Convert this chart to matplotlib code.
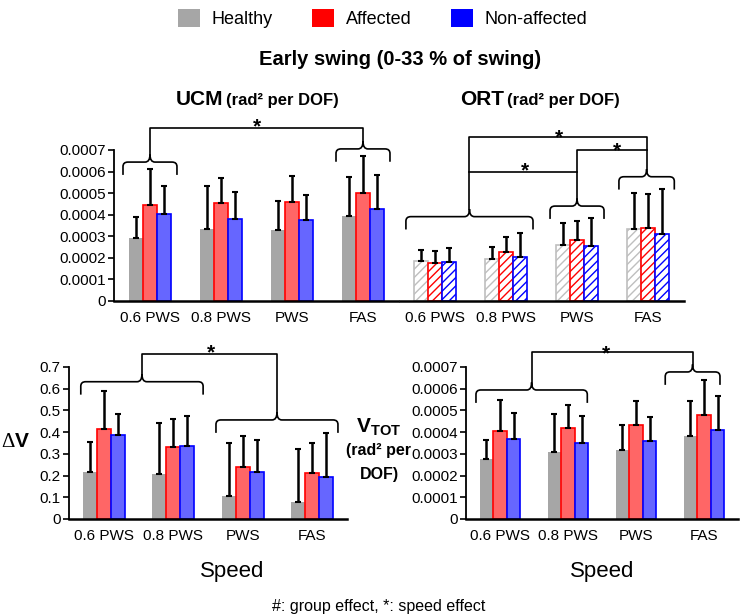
import matplotlib
matplotlib.use("Agg")
import matplotlib.pyplot as plt
from matplotlib.patches import Patch, PathPatch
from matplotlib.path import Path
from matplotlib.ticker import FuncFormatter
import numpy as np

plt.rcParams['font.family'] = 'Liberation Sans'
plt.rcParams['mathtext.fontset'] = 'custom'
plt.rcParams['mathtext.rm'] = 'Liberation Sans'
plt.rcParams['mathtext.bf'] = 'Liberation Sans:bold'
plt.rcParams['hatch.linewidth'] = 1.0

speeds = ['0.6 PWS', '0.8 PWS', 'PWS', 'FAS']
groups = ['Healthy', 'Affected', 'Non-affected']

# UCM (rad^2 per DOF)
ucm_healthy = [0.000294, 0.000332, 0.000328, 0.000393]
ucm_healthy_sd = [0.000096, 0.000203, 0.000137, 0.000180]
ucm_affected = [0.000445, 0.000453, 0.000461, 0.000502]
ucm_affected_sd = [0.000167, 0.000117, 0.000117, 0.000168]
ucm_nonaff = [0.000405, 0.000379, 0.000376, 0.000428]
ucm_nonaff_sd = [0.000128, 0.000124, 0.000116, 0.000157]

# ORT (rad^2 per DOF)
ort_healthy = [0.000187, 0.000193, 0.000260, 0.000336]
ort_healthy_sd = [0.000049, 0.000055, 0.000103, 0.000165]
ort_affected = [0.000176, 0.000227, 0.000282, 0.000340]
ort_affected_sd = [0.000054, 0.000068, 0.000091, 0.000157]
ort_nonaff = [0.000182, 0.000202, 0.000253, 0.000309]
ort_nonaff_sd = [0.000063, 0.000114, 0.000133, 0.000211]

# delta V
dv_healthy = [0.215, 0.205, 0.105, 0.080]
dv_healthy_sd = [0.140, 0.235, 0.245, 0.240]
dv_affected = [0.415, 0.330, 0.240, 0.210]
dv_affected_sd = [0.175, 0.130, 0.140, 0.140]
dv_nonaff = [0.385, 0.335, 0.215, 0.195]
dv_nonaff_sd = [0.100, 0.140, 0.150, 0.200]

# V_TOT
vtot_healthy = [0.000277, 0.000310, 0.000316, 0.000380]
vtot_healthy_sd = [0.000085, 0.000175, 0.000119, 0.000162]
vtot_affected = [0.000405, 0.000420, 0.000433, 0.000477]
vtot_affected_sd = [0.000145, 0.000105, 0.000109, 0.000163]
vtot_nonaff = [0.000370, 0.000350, 0.000357, 0.000410]
vtot_nonaff_sd = [0.000118, 0.000122, 0.000113, 0.000158]

fill_cols = ['#a6a6a6', '#ff6666', '#6666ff']
edge_cols = ['#a6a6a6', '#ff0000', '#0000ff']
hatch_edge = ['#bfbfbf', '#ff0000', '#0000ff']
legend_cols = ['#a6a6a6', '#ff0000', '#0000ff']

fig = plt.figure(figsize=(7.4, 6.16), dpi=100)
ax_ucm = fig.add_axes([0.1547, 0.5114, 0.3838, 0.2451])
ax_ort = fig.add_axes([0.5399, 0.5114, 0.3838, 0.2451])
ax_dv = fig.add_axes([0.0932, 0.1575, 0.3757, 0.2468])
ax_vt = fig.add_axes([0.6297, 0.1575, 0.3676, 0.2468])

x = np.arange(len(speeds))
w = 0.2


def draw_panel(ax, means, sds, ymax, step, fmt, hatched=False, show_y=True):
    for i, (m, s) in enumerate(zip(means, sds)):
        pos = x + (i - 1) * w
        if hatched:
            ax.bar(pos, m, w, color='white', edgecolor=hatch_edge[i], hatch='////',
                   linewidth=1.2, zorder=2)
        elif i == 0:
            ax.bar(pos, m, w, color=fill_cols[i], linewidth=0, zorder=2)
        else:
            ax.bar(pos, m, w, color=fill_cols[i], edgecolor=edge_cols[i],
                   linewidth=1.2, zorder=2)
        ax.errorbar(pos, m, yerr=[np.zeros(len(m)), s], fmt='none', ecolor='black',
                    elinewidth=1.8, capsize=2.2, capthick=1.5, zorder=3)
    ax.set_xlim(-0.5, 3.5)
    ax.set_ylim(0, ymax)
    ax.set_xticks(x)
    ax.set_xticklabels(speeds, fontsize=11)
    ax.tick_params(axis='x', length=0, pad=7)
    for sp in ['top', 'right']:
        ax.spines[sp].set_visible(False)
    ax.spines['bottom'].set_linewidth(1.8)
    if show_y:
        ax.set_yticks(np.arange(0, ymax + step / 2, step))
        ax.yaxis.set_major_formatter(FuncFormatter(lambda v, p: '0' if abs(v) < 1e-12 else fmt.format(v)))
        ax.tick_params(axis='y', direction='out', length=4, width=1.2, labelsize=11, pad=2)
        ax.spines['left'].set_linewidth(1.3)
    else:
        ax.spines['left'].set_visible(False)
        ax.set_yticks([])
    ax.patch.set_alpha(0)


def brace(ax, x0, x1, y):
    ymax = ax.get_ylim()[1]
    h = 0.085 * ymax
    p = 0.05 * ymax
    r = 0.07
    xm = (x0 + x1) / 2
    verts = [(x0, y - h), (x0, y - 0.35 * h), (x0, y), (x0 + r, y),
             (xm - r, y), (xm, y), (xm, y + p), (xm, y), (xm + r, y),
             (x1 - r, y), (x1, y), (x1, y - 0.35 * h), (x1, y - h)]
    codes = [Path.MOVETO, Path.LINETO, Path.CURVE3, Path.CURVE3,
             Path.LINETO, Path.CURVE3, Path.CURVE3, Path.CURVE3, Path.CURVE3,
             Path.LINETO, Path.CURVE3, Path.CURVE3, Path.LINETO]
    ax.add_patch(PathPatch(Path(verts, codes), fill=False, lw=1.2, clip_on=False, zorder=4))
    return xm, y + p


def line(ax, xs, ys):
    ax.plot(xs, ys, color='black', lw=1.2, clip_on=False, zorder=4)


def star(ax, xx, yy):
    ax.annotate('*', (xx, yy), xytext=(0, -5), textcoords='offset points',
                ha='center', va='center', fontsize=15, fontweight='bold',
                annotation_clip=False)


draw_panel(ax_ucm, [ucm_healthy, ucm_affected, ucm_nonaff],
           [ucm_healthy_sd, ucm_affected_sd, ucm_nonaff_sd], 0.0007, 0.0001, '{:.4f}')
draw_panel(ax_ort, [ort_healthy, ort_affected, ort_nonaff],
           [ort_healthy_sd, ort_affected_sd, ort_nonaff_sd], 0.0007, 0.0001, '{:.4f}',
           hatched=True, show_y=False)
draw_panel(ax_dv, [dv_healthy, dv_affected, dv_nonaff],
           [dv_healthy_sd, dv_affected_sd, dv_nonaff_sd], 0.7, 0.1, '{:.1f}')
draw_panel(ax_vt, [vtot_healthy, vtot_affected, vtot_nonaff],
           [vtot_healthy_sd, vtot_affected_sd, vtot_nonaff_sd], 0.0007, 0.0001, '{:.4f}')

# UCM brackets
xa, ya = brace(ax_ucm, -0.38, 0.38, 0.000644)
xb, yb = brace(ax_ucm, 2.62, 3.38, 0.000705)
line(ax_ucm, [xa, xa, xb, xb], [ya, 0.000802, 0.000802, yb])
star(ax_ucm, 1.5, 0.00084)

# ORT brackets
xa, ya = brace(ax_ort, -0.41, 1.38, 0.000391)
xb, yb = brace(ax_ort, 1.62, 2.38, 0.00044)
xc, yc = brace(ax_ort, 2.59, 3.37, 0.000576)
line(ax_ort, [xa, xa, xc, xc], [ya, 0.000762, 0.000762, yc])
line(ax_ort, [xa, xb], [0.0006, 0.0006])
line(ax_ort, [xb, xb, xc], [yb, 0.0007, 0.0007])
star(ax_ort, 1.75, 0.00079)
star(ax_ort, 2.56, 0.000728)
star(ax_ort, 1.27, 0.000635)

# delta V brackets
xa, ya = brace(ax_dv, -0.33, 1.43, 0.632)
xb, yb = brace(ax_dv, 1.615, 3.37, 0.456)
line(ax_dv, [xa, xa, xb, xb], [ya, 0.76, 0.76, yb])
star(ax_dv, 1.54, 0.797)

# V_TOT brackets
xa, ya = brace(ax_vt, -0.353, 1.284, 0.000594)
xb, yb = brace(ax_vt, 2.43, 3.235, 0.000677)
line(ax_vt, [xa, xa, xb, xb], [ya, 0.00077, 0.00077, yb])
star(ax_vt, 1.56, 0.000793)

# texts
handles = [Patch(facecolor=c, edgecolor='none') for c in legend_cols]
fig.legend(handles, groups, loc='upper center', bbox_to_anchor=(0.517, 1.012), ncol=3,
           frameon=False, fontsize=13, handlelength=1.2, handleheight=1.2,
           handletextpad=0.65, columnspacing=2.2)

fig.text(0.5405, 0.904, 'Early swing (0-33 % of swing)', ha='center', va='center',
         fontsize=14.5, fontweight='bold')
fig.text(223 / 740, 0.8295, 'UCM', ha='right', va='baseline', fontsize=15, fontweight='bold')
fig.text(226 / 740, 0.8295, '(rad² per DOF)', ha='left', va='baseline', fontsize=12, fontweight='bold')
fig.text(504 / 740, 0.8295, 'ORT', ha='right', va='baseline', fontsize=15, fontweight='bold')
fig.text(507 / 740, 0.8295, '(rad² per DOF)', ha='left', va='baseline', fontsize=12, fontweight='bold')

fig.text(15 / 740, 1 - 447 / 616, 'Δ', ha='right', va='baseline', fontsize=15,
         family='Liberation Serif')
fig.text(15 / 740, 1 - 447 / 616, 'V', ha='left', va='baseline', fontsize=15, fontweight='bold')
fig.text(379 / 740, 1 - 427 / 616, r'$\mathbf{V_{TOT}}$', ha='center', va='center', fontsize=15)
fig.text(379 / 740, 1 - 451 / 616, '(rad² per', ha='center', va='center', fontsize=11.5, fontweight='bold')
fig.text(379 / 740, 1 - 475 / 616, 'DOF)', ha='center', va='center', fontsize=11.5, fontweight='bold')

fig.text(232 / 740, 1 - 572 / 616, 'Speed', ha='center', va='center', fontsize=16)
fig.text(602 / 740, 1 - 572 / 616, 'Speed', ha='center', va='center', fontsize=16)
fig.text(379 / 740, 1 - 607 / 616, '#: group effect, *: speed effect', ha='center', va='center',
         fontsize=11.5)

fig.savefig('out.png', dpi=100)
